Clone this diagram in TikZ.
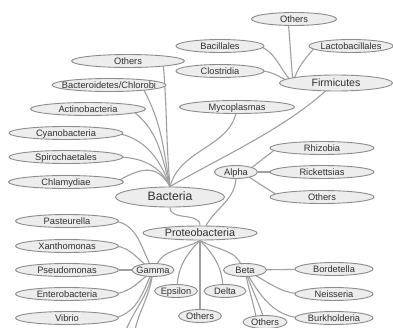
\documentclass[tikz,border=0pt]{standalone}
\usepackage{fontspec}
\setmainfont{Liberation Sans}
\usetikzlibrary{shapes.geometric,backgrounds}
\definecolor{fillc}{HTML}{EDEDED}
\definecolor{bordc}{HTML}{8C8C8C}
\definecolor{linec}{HTML}{A0A0A0}
\definecolor{txtc}{HTML}{303030}
\begin{document}
\begin{tikzpicture}[x=1pt,y=1pt,
  bub/.style n args={4}{ellipse, draw=bordc, fill=fillc, line width=0.9pt,
    minimum width=#1, minimum height=#2, inner sep=0pt,
    label={[font=\fontsize{#3}{#3}\selectfont, text=txtc, inner sep=0pt,
      text height=0.7em, text depth=0pt]center:#4}},
  sm/.style 2 args={bub={#1}{13pt}{9.3}{#2}},
  con/.style={draw=linec, line width=1.1pt}]
\path[use as bounding box] (0,0) rectangle (393,327);

% Bacteria branch
\node[sm={113pt}{Others}] (othL) at (128,266) {};
\node[sm={114pt}{Bacteroidetes/Chlorobi}] (bact) at (109,242) {};
\node[sm={115pt}{Actinobacteria}] (acti) at (88,218) {};
\node[sm={114pt}{Cyanobacteria}] (cyan) at (66,194) {};
\node[sm={114pt}{Spirochaetales}] (spir) at (66,170) {};
\node[sm={115pt}{Chlamydiae}] (chla) at (66,145) {};
\node[bub={109pt}{20pt}{12.2}{Bacteria}] (bac) at (170,130) {};
\node[sm={115pt}{Mycoplasmas}] (myco) at (237,220) {};

% Firmicutes
\node[bub={113pt}{16pt}{10.6}{Firmicutes}] (firm) at (336,244) {};
\node[sm={85pt}{Others}] (othT) at (294,308) {};
\node[sm={88pt}{Bacillales}] (baci) at (220,281) {};
\node[sm={84pt}{Lactobacillales}] (lact) at (351,281) {};
\node[sm={88pt}{Clostridia}] (clos) at (220,256) {};

% Proteobacteria
\node[bub={114pt}{14pt}{10.8}{Proteobacteria}] (pro) at (200,94) {};
\node[sm={43pt}{Alpha}] (alp) at (236,155) {};
\node[sm={104pt}{Rhizobia}] (rhiz) at (322,179) {};
\node[sm={104pt}{Rickettsias}] (rick) at (322,155) {};
\node[sm={104pt}{Others}] (othA) at (322,130) {};

\node[sm={42pt}{Gamma}] (gam) at (153,57) {};
\node[sm={103pt}{Pasteurella}] (past) at (67,106) {};
\node[sm={103pt}{Xanthomonas}] (xant) at (67,81) {};
\node[sm={103pt}{Pseudomonas}] (pseu) at (67,57) {};
\node[sm={103pt}{Enterobacteria}] (ente) at (67,33) {};
\node[sm={103pt}{Vibrio}] (vibr) at (67,9) {};

\node[sm={43pt}{Epsilon}] (eps) at (176,36) {};
\node[sm={42pt}{Delta}] (del) at (225,36) {};
\node[sm={43pt}{Others}] (othP) at (200,11) {};

\node[sm={43pt}{Beta}] (bet) at (245,57) {};
\node[sm={78pt}{Bordetella}] (bord) at (334,58) {};
\node[sm={78pt}{Neisseria}] (neis) at (334,33) {};
\node[sm={78pt}{Burkholderia}] (burk) at (334,9) {};
\node[sm={44pt}{Others}] (othB) at (265,5) {};

\coordinate (gOffA) at (124,-8);
\coordinate (gOffB) at (134,-8);
\coordinate (bOff) at (269,-8);

\begin{scope}[on background layer]
\fill[white] (0,0) rectangle (393,327);
% to Bacteria
\draw[con] ([xshift=35pt]othL.center) to[out=-85,in=95] (bac.north);
\draw[con] ([xshift=32pt]bact.center) to[out=-60,in=100] (bac.north);
\draw[con] ([xshift=42pt]acti.center) to[out=-35,in=105] (bac.north);
\draw[con] ([xshift=50pt]cyan.center) to[out=-10,in=110] (bac.north);
\draw[con] ([xshift=50pt]spir.center) to[out=0,in=115] (bac.north);
\draw[con] ([xshift=50pt]chla.center) to[out=30,in=120,looseness=1.3] (bac.north);
\draw[con] (myco.center) to[out=-95,in=75] (bac.north);
\draw[con] ([xshift=-2pt]firm.center) to[out=-135,in=30,looseness=0.8] (bac.north);
% Firmicutes children
\draw[con] ([xshift=-6pt]othT.center) to[out=-85,in=95] ([xshift=-43pt]firm.center);
\draw[con] ([xshift=40pt]baci.center) to[out=-25,in=135] ([xshift=-43pt]firm.center);
\draw[con] ([xshift=40pt]clos.center) to[out=0,in=160] ([xshift=-43pt]firm.center);
\draw[con] ([xshift=-35pt]lact.center) to[out=-130,in=75] ([xshift=-43pt]firm.center);
% Bacteria - Proteobacteria - Alpha
\draw[con] (bac.south) to[out=-90,in=90] (pro.north);
\draw[con] (alp.south) to[out=-95,in=60] ([xshift=6pt]pro.north);
\draw[con] ([xshift=10pt]alp.center) -- ([xshift=-45pt]rhiz.center);
\draw[con] (alp) -- (rick);
\draw[con] ([xshift=5pt]alp.center) -- ([xshift=-42pt]othA.center);
% Proteobacteria children
\draw[con] (pro.south) to[out=-150,in=85] ([xshift=3pt]gam.center);
\draw[con] (pro.south) to[out=-135,in=90] ([xshift=1pt]eps.center);
\draw[con] (pro.south) -- (othP.center);
\draw[con] (pro.south) to[out=-45,in=90] ([xshift=-2pt]del.center);
\draw[con] (pro.south) to[out=-30,in=95] ([xshift=-3pt]bet.center);
% Gamma children
\draw[con] ([xshift=48pt]past.center) to[out=-10,in=120] (gam.center);
\draw[con] ([xshift=48pt]xant.center) to[out=-5,in=150] (gam.center);
\draw[con] (pseu) -- (gam);
\draw[con] ([xshift=48pt]ente.center) to[out=10,in=-140] (gam.center);
\draw[con] ([xshift=48pt]vibr.center) to[out=15,in=-115] (gam.center);
\draw[con] (gOffA) to[out=70,in=-100] (gam.center);
\draw[con] (gOffB) to[out=80,in=-95] (gam.center);
% Beta children
\draw[con] (bet) -- (bord);
\draw[con] (bet.center) to[out=-25,in=180] ([xshift=-30pt]neis.center);
\draw[con] (bet.center) to[out=-60,in=180] ([xshift=-30pt]burk.center);
\draw[con] (bet.center) to[out=-80,in=100] ([xshift=-8pt]othB.center);
\draw[con] (bet.center) to[out=-70,in=105] (bOff);
\end{scope}
\end{tikzpicture}
\end{document}
